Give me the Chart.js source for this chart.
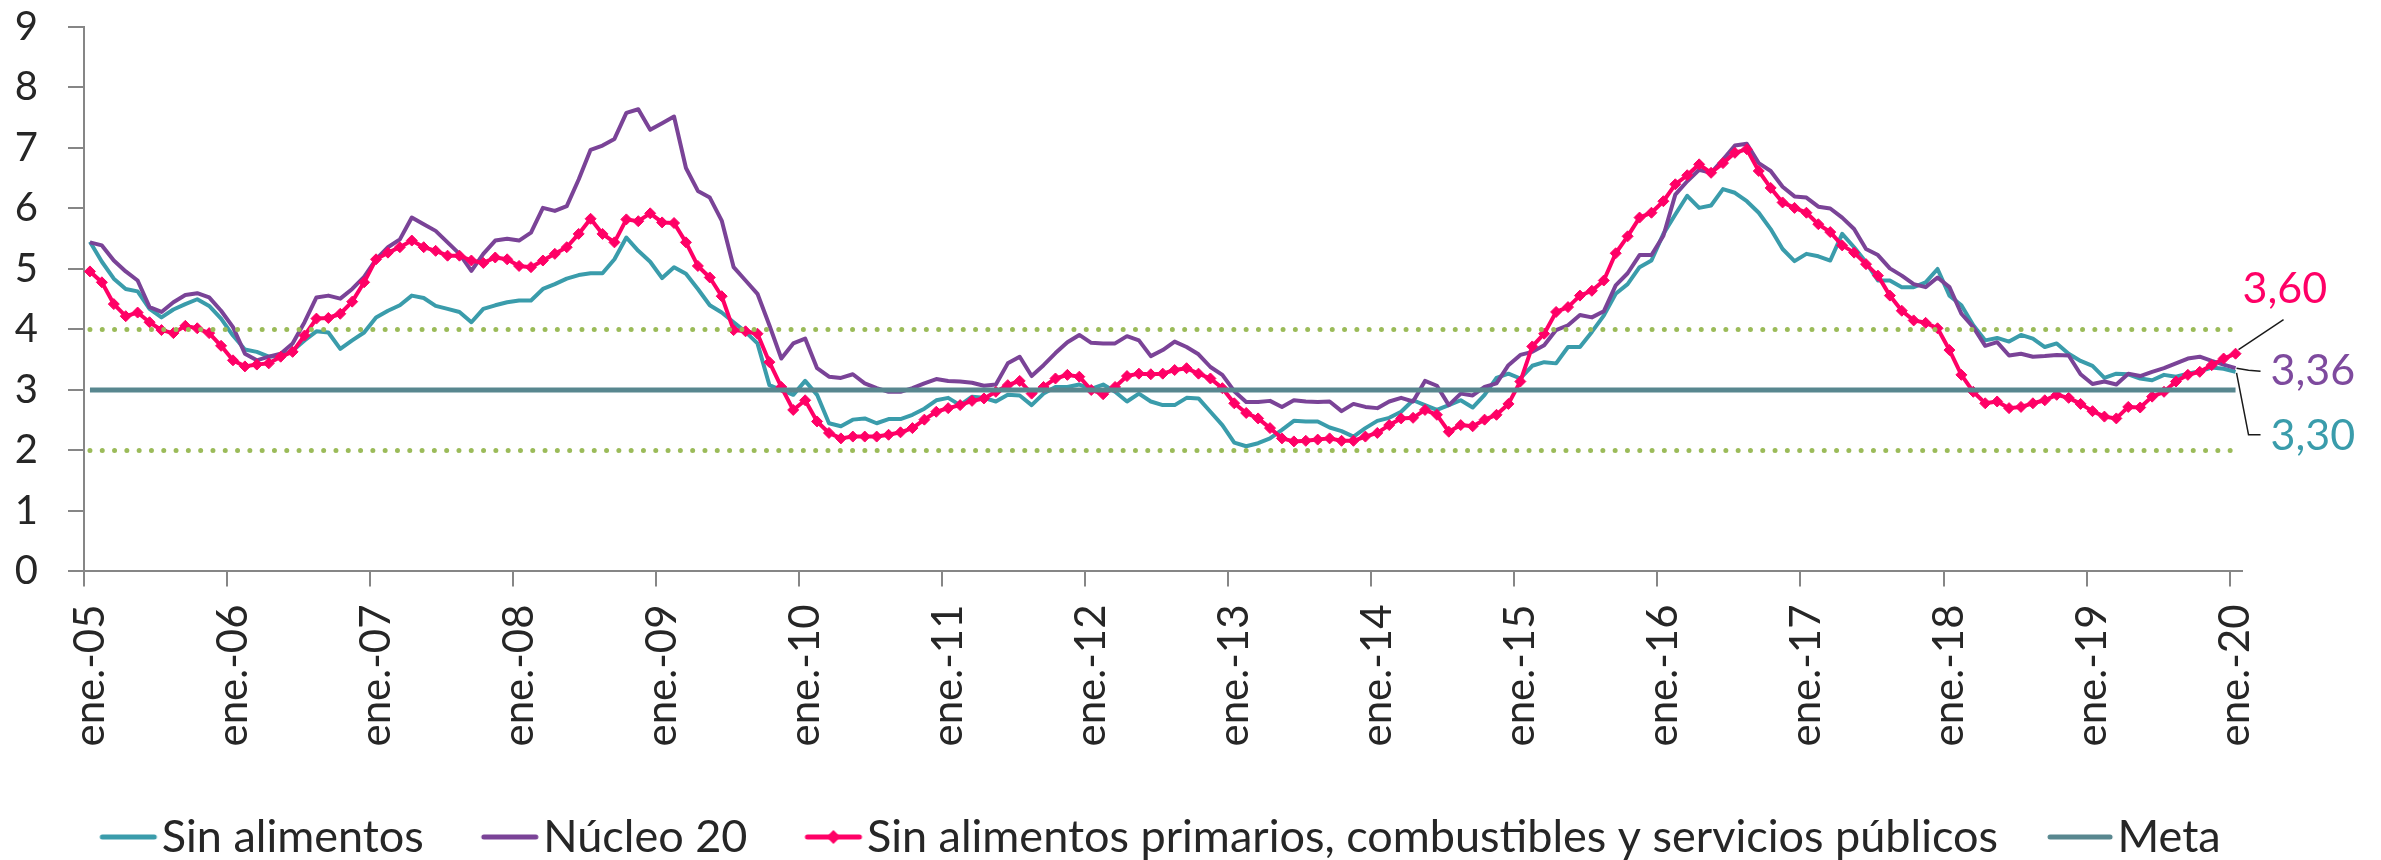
<!DOCTYPE html>
<html lang="es">
<head>
<meta charset="utf-8">
<title>Indicadores de inflación básica</title>
<script src="https://cdn.jsdelivr.net/npm/chart.js@4.4.1/dist/chart.umd.min.js"></script>
<style>
  html, body { margin: 0; padding: 0; background: #ffffff; }
  canvas { display: block; }
</style>
</head>
<body>
<canvas id="grafico" width="2381" height="860"></canvas>
<script>
// Meses de la serie: ene.-05 a ene.-20
const MESES = ['ene.', 'feb.', 'mar.', 'abr.', 'may.', 'jun.', 'jul.', 'ago.', 'sep.', 'oct.', 'nov.', 'dic.'];
const ANIOS = ['05', '06', '07', '08', '09', '10', '11', '12', '13', '14', '15', '16', '17', '18', '19'];
const ULTIMO_MES = 'ene.-20';

// Sin alimentos
const sinAlimentos = [
    5.45, 5.12, 4.84, 4.67, 4.63, 4.34, 4.20, 4.33, 4.42, 4.50, 4.39, 4.18,
    3.90, 3.67, 3.63, 3.55, 3.57, 3.65, 3.82, 3.97, 3.95, 3.68, 3.82, 3.95,
    4.20, 4.31, 4.40, 4.56, 4.52, 4.39, 4.34, 4.29, 4.12, 4.34, 4.40, 4.45,
    4.48, 4.48, 4.67, 4.75, 4.84, 4.90, 4.93, 4.93, 5.16, 5.52, 5.30, 5.12,
    4.85, 5.03, 4.92, 4.67, 4.40, 4.28, 4.12, 3.96, 3.77, 3.08, 3.00, 2.92,
    3.15, 2.92, 2.45, 2.40, 2.51, 2.53, 2.45, 2.52, 2.52, 2.59, 2.69, 2.83,
    2.87, 2.75, 2.89, 2.87, 2.81, 2.92, 2.91, 2.75, 2.94, 3.05, 3.05, 3.09,
    3.02, 3.09, 2.97, 2.81, 2.94, 2.81, 2.75, 2.75, 2.87, 2.86, 2.64, 2.42,
    2.13, 2.07, 2.12, 2.20, 2.34, 2.49, 2.48, 2.48, 2.38, 2.32, 2.23, 2.37,
    2.49, 2.54, 2.64, 2.83, 2.75, 2.67, 2.75, 2.83, 2.71, 2.92, 3.20, 3.27,
    3.19, 3.40, 3.46, 3.44, 3.71, 3.71, 3.96, 4.23, 4.59, 4.75, 5.03, 5.14,
    5.58, 5.90, 6.21, 6.01, 6.05, 6.32, 6.26, 6.12, 5.93, 5.66, 5.33, 5.13,
    5.25, 5.21, 5.14, 5.58, 5.36, 5.11, 4.81, 4.81, 4.70, 4.70, 4.78, 5.00,
    4.56, 4.40, 4.07, 3.82, 3.86, 3.80, 3.91, 3.85, 3.71, 3.77, 3.60, 3.48,
    3.40, 3.20, 3.27, 3.26, 3.19, 3.16, 3.25, 3.22, 3.27, 3.31, 3.37, 3.35,
    3.30
];

// Núcleo 20
const nucleo20 = [
    5.44, 5.39, 5.14, 4.96, 4.81, 4.37, 4.29, 4.45, 4.57, 4.60, 4.53, 4.31,
    4.04, 3.60, 3.49, 3.55, 3.60, 3.77, 4.12, 4.53, 4.56, 4.51, 4.67, 4.87,
    5.16, 5.36, 5.49, 5.85, 5.74, 5.63, 5.44, 5.25, 4.97, 5.25, 5.47, 5.50,
    5.47, 5.60, 6.01, 5.96, 6.04, 6.48, 6.97, 7.04, 7.15, 7.58, 7.64, 7.30,
    7.41, 7.52, 6.67, 6.29, 6.18, 5.80, 5.03, 4.81, 4.59, 4.07, 3.52, 3.77,
    3.85, 3.36, 3.22, 3.20, 3.26, 3.11, 3.03, 2.97, 2.97, 3.03, 3.11, 3.18,
    3.15, 3.14, 3.12, 3.07, 3.09, 3.44, 3.55, 3.23, 3.41, 3.61, 3.79, 3.91,
    3.78, 3.77, 3.77, 3.89, 3.82, 3.56, 3.66, 3.80, 3.71, 3.59, 3.38, 3.25,
    2.98, 2.80, 2.80, 2.82, 2.72, 2.83, 2.81, 2.80, 2.81, 2.65, 2.77, 2.72,
    2.70, 2.81, 2.87, 2.81, 3.15, 3.07, 2.75, 2.94, 2.91, 3.05, 3.11, 3.41,
    3.58, 3.63, 3.74, 3.99, 4.07, 4.24, 4.20, 4.30, 4.73, 4.93, 5.23, 5.23,
    5.55, 6.23, 6.45, 6.64, 6.59, 6.81, 7.04, 7.07, 6.75, 6.62, 6.36, 6.20,
    6.18, 6.03, 6.00, 5.85, 5.66, 5.33, 5.23, 5.01, 4.89, 4.75, 4.70, 4.86,
    4.70, 4.26, 4.04, 3.73, 3.79, 3.57, 3.60, 3.55, 3.56, 3.58, 3.57, 3.26,
    3.10, 3.14, 3.09, 3.27, 3.23, 3.30, 3.36, 3.44, 3.52, 3.55, 3.48, 3.42,
    3.36
];

// Sin alimentos primarios, combustibles y servicios públicos
const sinPrimarios = [
    4.96, 4.78, 4.42, 4.22, 4.28, 4.12, 3.99, 3.94, 4.06, 4.02, 3.94, 3.73,
    3.49, 3.39, 3.42, 3.44, 3.55, 3.63, 3.90, 4.18, 4.19, 4.26, 4.46, 4.78,
    5.16, 5.27, 5.36, 5.47, 5.36, 5.30, 5.22, 5.22, 5.14, 5.10, 5.19, 5.16,
    5.05, 5.03, 5.14, 5.25, 5.36, 5.58, 5.83, 5.58, 5.44, 5.82, 5.79, 5.92,
    5.77, 5.76, 5.44, 5.05, 4.86, 4.55, 3.99, 3.97, 3.93, 3.46, 3.05, 2.67,
    2.83, 2.48, 2.29, 2.20, 2.23, 2.23, 2.23, 2.26, 2.30, 2.37, 2.51, 2.64,
    2.70, 2.75, 2.82, 2.86, 2.97, 3.08, 3.15, 2.94, 3.05, 3.19, 3.25, 3.22,
    3.00, 2.93, 3.05, 3.23, 3.27, 3.26, 3.27, 3.33, 3.36, 3.27, 3.19, 3.03,
    2.78, 2.62, 2.53, 2.37, 2.20, 2.15, 2.16, 2.18, 2.20, 2.16, 2.16, 2.23,
    2.29, 2.42, 2.53, 2.54, 2.67, 2.59, 2.31, 2.42, 2.40, 2.51, 2.59, 2.77,
    3.14, 3.72, 3.93, 4.29, 4.37, 4.56, 4.64, 4.81, 5.26, 5.54, 5.85, 5.93,
    6.12, 6.40, 6.55, 6.73, 6.59, 6.75, 6.92, 6.98, 6.62, 6.34, 6.10, 6.01,
    5.93, 5.74, 5.61, 5.39, 5.27, 5.08, 4.89, 4.56, 4.31, 4.15, 4.11, 4.02,
    3.66, 3.25, 2.97, 2.78, 2.81, 2.70, 2.72, 2.78, 2.83, 2.92, 2.87, 2.77,
    2.65, 2.56, 2.53, 2.72, 2.71, 2.89, 2.97, 3.14, 3.25, 3.30, 3.41, 3.52,
    3.60
];

// Meta y rango de tolerancia
const META = 3;
const RANGO_INFERIOR = 2;
const RANGO_SUPERIOR = 4;

const TEXTO = '#262626';
const EJE = '#868686';
const COLOR_SIN_ALIMENTOS = '#3A9CAB';
const COLOR_NUCLEO = '#7A4397';
const COLOR_PRIMARIOS = '#FF0066';
const COLOR_META = '#58878F';
const COLOR_RANGO = '#9BBB59';

const categorias = [];
ANIOS.forEach(anio => MESES.forEach(mes => categorias.push(mes + '-' + anio)));
categorias.push(ULTIMO_MES);

const primero = categorias[0];
const ultimo = categorias[categorias.length - 1];

// marcadores de la leyenda: la línea va pegada al lado derecho del lienzo
const ANCHO_CAJA = 47;
function marcadorLeyenda(color, conRombo, largo) {
    const c = document.createElement('canvas');
    c.width = ANCHO_CAJA + 40;
    c.height = 16;
    const w = c.width;
    const g = c.getContext('2d');
    g.strokeStyle = color;
    g.lineWidth = 5;
    g.lineCap = 'round';
    g.beginPath();
    g.moveTo(w - 5 - largo, 8);
    g.lineTo(w - 5, 8);
    g.stroke();
    if (conRombo) {
        const cx = w - 5 - largo / 2;
        g.fillStyle = color;
        g.beginPath();
        g.moveTo(cx, 1);
        g.lineTo(cx + 7, 8);
        g.lineTo(cx, 15);
        g.lineTo(cx - 7, 8);
        g.closePath();
        g.fill();
    }
    return c;
}

const marcadores = [
    marcadorLeyenda(COLOR_SIN_ALIMENTOS, false, 52),
    marcadorLeyenda(COLOR_NUCLEO, false, 52),
    marcadorLeyenda(COLOR_PRIMARIOS, true, 52),
    marcadorLeyenda(COLOR_META, false, 60)
];

// valores finales con líneas guía
const etiquetasFinales = {
    id: 'etiquetasFinales',
    afterDatasetsDraw(chart) {
        const ctx = chart.ctx;
        const guias = [
            { serie: 2, color: COLOR_PRIMARIOS, linea: [[3, -4], [48, -34]], texto: [7, -65] },
            { serie: 1, color: '#7E4A9E', linea: [[1, 0], [13, 2], [25, 3]], texto: [35, 3] },
            { serie: 0, color: COLOR_SIN_ALIMENTOS, linea: [[1, 1], [13, 63], [25, 63]], texto: [35, 64] }
        ];
        ctx.save();
        guias.forEach(g => {
            const meta = chart.getDatasetMeta(g.serie);
            const datos = chart.data.datasets[g.serie].data;
            const punto = meta.data[meta.data.length - 1];
            const px = punto.x;
            const py = punto.y;
            ctx.strokeStyle = '#1a1a1a';
            ctx.lineWidth = 1.5;
            ctx.beginPath();
            g.linea.forEach((p, i) => {
                if (i === 0) ctx.moveTo(px + p[0], py + p[1]);
                else ctx.lineTo(px + p[0], py + p[1]);
            });
            ctx.stroke();
            ctx.fillStyle = g.color;
            ctx.font = '43px Lato';
            ctx.textAlign = 'left';
            ctx.textBaseline = 'middle';
            const valor = datos[datos.length - 1].toFixed(2).replace('.', ',');
            ctx.fillText(valor, px + g.texto[0], py + g.texto[1]);
        });
        ctx.restore();
    }
};

const ctx = document.getElementById('grafico').getContext('2d');
const grafico = new Chart(ctx, {
    type: 'line',
    data: {
        labels: categorias,
        datasets: [
            {
                label: 'Sin alimentos',
                data: sinAlimentos,
                borderColor: COLOR_SIN_ALIMENTOS,
                borderWidth: 4,
                pointRadius: 0,
                order: 5
            },
            {
                label: 'Núcleo 20',
                data: nucleo20,
                borderColor: COLOR_NUCLEO,
                borderWidth: 4,
                pointRadius: 0,
                order: 4
            },
            {
                label: 'Sin alimentos primarios, combustibles y servicios públicos',
                data: sinPrimarios,
                borderColor: COLOR_PRIMARIOS,
                borderWidth: 4,
                pointStyle: 'rectRot',
                pointRadius: 5.5,
                pointBackgroundColor: COLOR_PRIMARIOS,
                pointBorderColor: COLOR_PRIMARIOS,
                pointBorderWidth: 1,
                order: 3
            },
            {
                label: 'Meta',
                data: [{ x: primero, y: META }, { x: ultimo, y: META }],
                borderColor: COLOR_META,
                borderWidth: 5,
                pointRadius: 0,
                order: 2
            },
            {
                label: 'Rango superior',
                data: [{ x: primero, y: RANGO_SUPERIOR }, { x: ultimo, y: RANGO_SUPERIOR }],
                borderColor: COLOR_RANGO,
                borderWidth: 5,
                borderDash: [0, 12.3],
                borderCapStyle: 'round',
                pointRadius: 0,
                sinLeyenda: true,
                order: 1
            },
            {
                label: 'Rango inferior',
                data: [{ x: primero, y: RANGO_INFERIOR }, { x: ultimo, y: RANGO_INFERIOR }],
                borderColor: COLOR_RANGO,
                borderWidth: 5,
                borderDash: [0, 12.3],
                borderCapStyle: 'round',
                pointRadius: 0,
                sinLeyenda: true,
                order: 1
            }
        ]
    },
    options: {
        responsive: false,
        animation: false,
        events: [],
        layout: { padding: { left: 0, right: 68, top: 27, bottom: 0 } },
        elements: { line: { tension: 0, borderJoinStyle: 'round' } },
        plugins: {
            tooltip: { enabled: false },
            legend: {
                position: 'bottom',
                maxHeight: 95.5,
                labels: {
                    usePointStyle: true,
                    pointStyleWidth: ANCHO_CAJA,
                    padding: 50,
                    color: TEXTO,
                    font: { family: 'Lato', size: 45, lineHeight: 1 },
                    filter: (item, data) => !data.datasets[item.datasetIndex].sinLeyenda,
                    sort: (a, b) => a.datasetIndex - b.datasetIndex,
                    generateLabels(chart) {
                        const items = Chart.defaults.plugins.legend.labels.generateLabels(chart);
                        items.forEach(item => {
                            if (marcadores[item.datasetIndex]) item.pointStyle = marcadores[item.datasetIndex];
                        });
                        return items;
                    }
                }
            }
        },
        scales: {
            x: {
                type: 'category',
                offset: true,
                grid: {
                    offset: true,
                    drawOnChartArea: false,
                    drawTicks: true,
                    tickLength: 15,
                    lineWidth: 2,
                    color: c => (c.index % 12 === 0 ? EJE : 'rgba(0,0,0,0)')
                },
                border: { display: true, color: EJE, width: 2 },
                ticks: {
                    autoSkip: false,
                    maxRotation: 90,
                    minRotation: 90,
                    padding: 18,
                    color: TEXTO,
                    font: { family: 'Lato', size: 42 },
                    callback: function (valor, indice) {
                        return indice % 12 === 0 ? this.getLabelForValue(valor) : '';
                    }
                }
            },
            y: {
                min: 0,
                max: 9,
                afterFit: escala => {
                    escala.width = 84;
                    escala.paddingTop = 0;
                    escala.paddingBottom = 0;
                },
                grid: {
                    drawOnChartArea: false,
                    tickLength: 16,
                    lineWidth: 2,
                    color: EJE
                },
                border: { display: true, color: EJE, width: 2 },
                ticks: {
                    stepSize: 1,
                    padding: 30,
                    color: TEXTO,
                    font: { family: 'Lato', size: 40 }
                }
            },
            derecha: {
                position: 'right',
                min: 0,
                max: 9,
                afterFit: escala => { escala.width = 71.5; },
                grid: { display: false },
                border: { display: false },
                ticks: { display: false }
            }
        }
    },
    plugins: [etiquetasFinales]
});
</script>
</body>
</html>
